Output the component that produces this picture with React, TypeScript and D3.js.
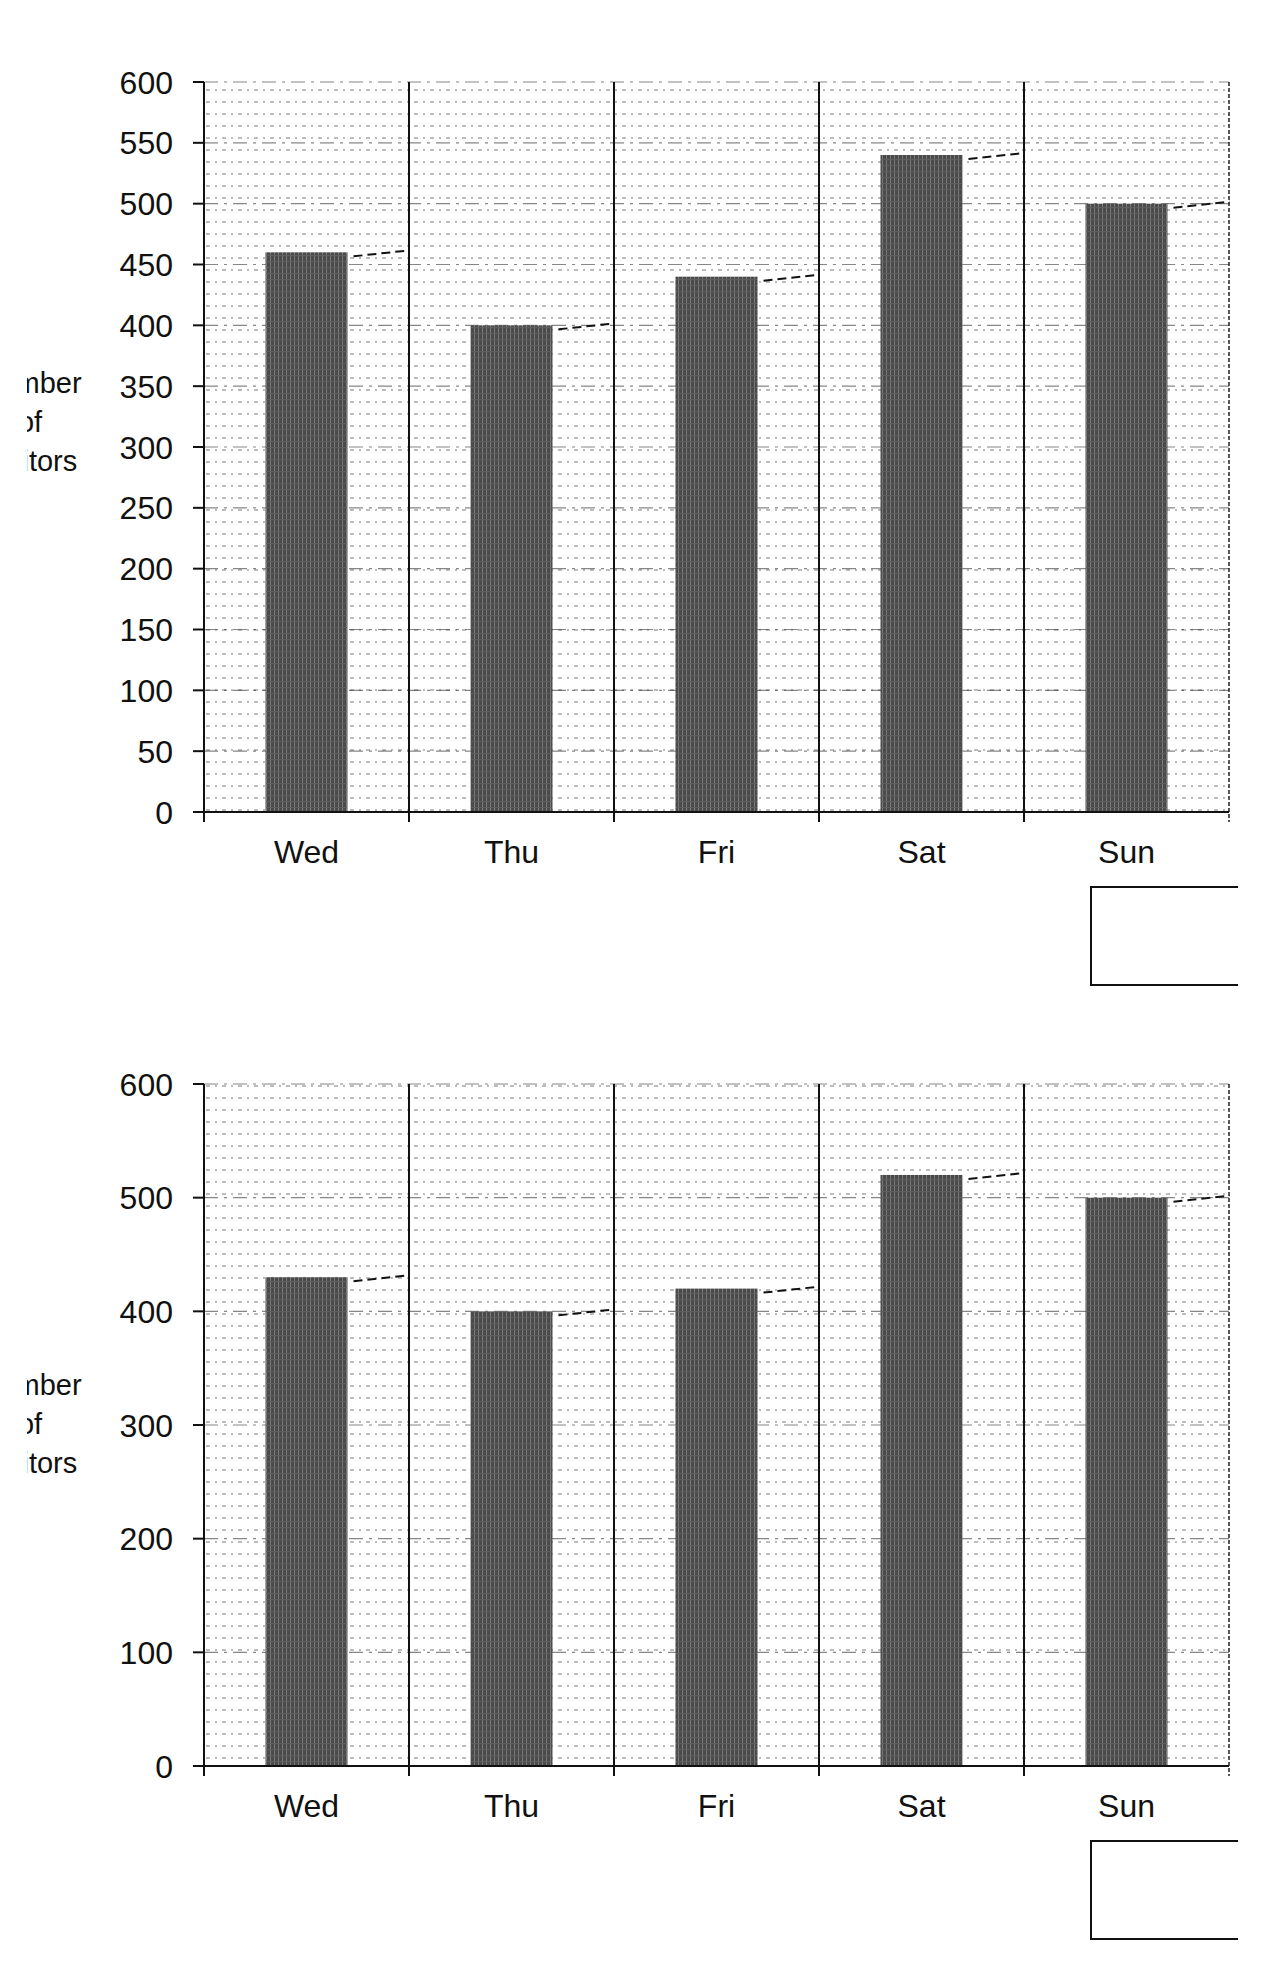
import React, { useEffect, useRef } from 'react';
import * as d3 from 'd3';

const days = ['Wed', 'Thu', 'Fri', 'Sat', 'Sun'];
const visitorsTop = [460, 400, 440, 540, 500];
const visitorsBottom = [430, 400, 420, 520, 500];
const ticksTop = [0, 50, 100, 150, 200, 250, 300, 350, 400, 450, 500, 550, 600];
const ticksBottom = [0, 100, 200, 300, 400, 500, 600];
const yLabelLines = ['Number', 'of', 'Visitors'];

const FONT = '"Liberation Sans", Arial, sans-serif';

interface PanelSpec {
  values: number[];
  ticks: number[];
  top: number;
  bottom: number;
}

const panels: PanelSpec[] = [
  { values: visitorsTop, ticks: ticksTop, top: 82, bottom: 812 },
  { values: visitorsBottom, ticks: ticksBottom, top: 1084, bottom: 1766 },
];

const App: React.FC = () => {
  const svgRef = useRef<SVGSVGElement>(null);

  useEffect(() => {
    if (!svgRef.current) return;
    const svg = d3.select(svgRef.current);
    svg.selectAll('*').remove();

    const left = 204;
    const right = 1229;

    // scanned background texture + bar texture
    const defs = svg.append('defs');
    const scan = defs.append('pattern')
      .attr('id', 'scan')
      .attr('width', 16)
      .attr('height', 12)
      .attr('patternUnits', 'userSpaceOnUse');
    scan.append('line')
      .attr('x1', 0).attr('x2', 16).attr('y1', 6).attr('y2', 6)
      .attr('stroke', '#000').attr('stroke-opacity', 0.35)
      .attr('stroke-width', 1.4).attr('stroke-dasharray', '2 5');

    const barTex = defs.append('pattern')
      .attr('id', 'barTex')
      .attr('width', 4)
      .attr('height', 6)
      .attr('patternUnits', 'userSpaceOnUse');
    barTex.append('rect').attr('width', 4).attr('height', 6).attr('fill', '#4a4a4a');
    barTex.append('rect').attr('x', 2).attr('width', 1).attr('height', 6).attr('fill', '#7a7a7a');
    barTex.append('rect').attr('y', 3).attr('width', 4).attr('height', 1).attr('fill', '#5e5e5e');

    // the scan cuts off the left edge of the axis title
    defs.append('clipPath')
      .attr('id', 'scanEdge')
      .append('rect')
      .attr('x', 27).attr('y', 0)
      .attr('width', 1235).attr('height', 1974);

    panels.forEach(p => {
      const g = svg.append('g');

      const x = d3.scaleBand<string>().domain(days).range([left, right]).padding(0);
      const y = d3.scaleLinear().domain([0, 600]).range([p.bottom, p.top]);
      const barW = x.bandwidth() * 0.4;

      // plot background
      g.append('rect')
        .attr('x', left).attr('y', p.top)
        .attr('width', right - left).attr('height', p.bottom - p.top)
        .attr('fill', 'url(#scan)');

      // horizontal grid lines
      g.selectAll('.grid')
        .data(p.ticks.slice(1))
        .enter()
        .append('line')
        .attr('x1', left).attr('x2', right)
        .attr('y1', d => y(d)).attr('y2', d => y(d))
        .attr('stroke', '#222').attr('stroke-opacity', 0.55)
        .attr('stroke-width', 1.2).attr('stroke-dasharray', '14 6 3 6');

      // bars
      g.selectAll('.bar')
        .data(p.values)
        .enter()
        .append('rect')
        .attr('x', (_, i) => (x(days[i]) as number) + (x.bandwidth() - barW) / 2)
        .attr('y', d => y(d))
        .attr('width', barW)
        .attr('height', d => p.bottom - y(d))
        .attr('fill', 'url(#barTex)');

      // pencil marks at bar tops
      g.selectAll('.mark')
        .data(p.values)
        .enter()
        .append('line')
        .attr('x1', (_, i) => (x(days[i]) as number) + (x.bandwidth() + barW) / 2 + 6)
        .attr('x2', (_, i) => (x(days[i]) as number) + (x.bandwidth() + barW) / 2 + 62)
        .attr('y1', d => y(d) + 4).attr('y2', d => y(d) - 2)
        .attr('stroke', '#111').attr('stroke-width', 2)
        .attr('stroke-dasharray', '9 5');

      // vertical category dividers
      const bounds = days.map(d => x(d) as number).concat([right]);
      g.selectAll('.div')
        .data(bounds)
        .enter()
        .append('line')
        .attr('x1', d => d).attr('x2', d => d)
        .attr('y1', p.top).attr('y2', p.bottom + 10)
        .attr('stroke', '#111')
        .attr('stroke-width', (_, i) => (i === bounds.length - 1 ? 1.4 : 2))
        .attr('stroke-dasharray', (_, i) => (i === bounds.length - 1 ? '4 2' : null));

      // x axis line
      g.append('line')
        .attr('x1', left - 10).attr('x2', right)
        .attr('y1', p.bottom).attr('y2', p.bottom)
        .attr('stroke', '#111').attr('stroke-width', 2);

      // y axis ticks
      g.selectAll('.ytick')
        .data(p.ticks)
        .enter()
        .append('line')
        .attr('x1', left - 11).attr('x2', left)
        .attr('y1', d => y(d)).attr('y2', d => y(d))
        .attr('stroke', '#111').attr('stroke-width', 2);

      g.selectAll('.ylab')
        .data(p.ticks)
        .enter()
        .append('text')
        .attr('x', left - 31)
        .attr('y', d => y(d))
        .attr('dy', '0.36em')
        .attr('text-anchor', 'end')
        .attr('font-family', FONT)
        .attr('font-size', 32)
        .attr('fill', '#111')
        .text(d => String(d));

      // category labels
      g.selectAll('.xlab')
        .data(days)
        .enter()
        .append('text')
        .attr('x', d => (x(d) as number) + x.bandwidth() / 2)
        .attr('y', p.bottom + 51)
        .attr('text-anchor', 'middle')
        .attr('font-family', FONT)
        .attr('font-size', 32)
        .attr('fill', '#111')
        .text(d => d);

      // y axis title (clipped at left edge like the scan)
      g.append('g')
        .attr('clip-path', 'url(#scanEdge)')
        .selectAll('text')
        .data(yLabelLines)
        .enter()
        .append('text')
        .attr('x', 30)
        .attr('y', (_, i) => p.top + 311 + i * 39)
        .attr('text-anchor', 'middle')
        .attr('font-family', FONT)
        .attr('font-size', 29)
        .attr('fill', '#111')
        .text(d => d);

      // cropped legend box
      const bx = 1091;
      const by = p.bottom + 75;
      const bh = 98;
      g.append('path')
        .attr('d', `M1238,${by}H${bx}V${by + bh}H1238`)
        .attr('fill', 'none')
        .attr('stroke', '#111')
        .attr('stroke-width', 2);
    });
  }, []);

  return (
    <svg
      ref={svgRef}
      width={1262}
      height={1974}
      style={{ position: 'absolute', left: 0, top: 0, background: '#fff' }}
    />
  );
};

export default App;
